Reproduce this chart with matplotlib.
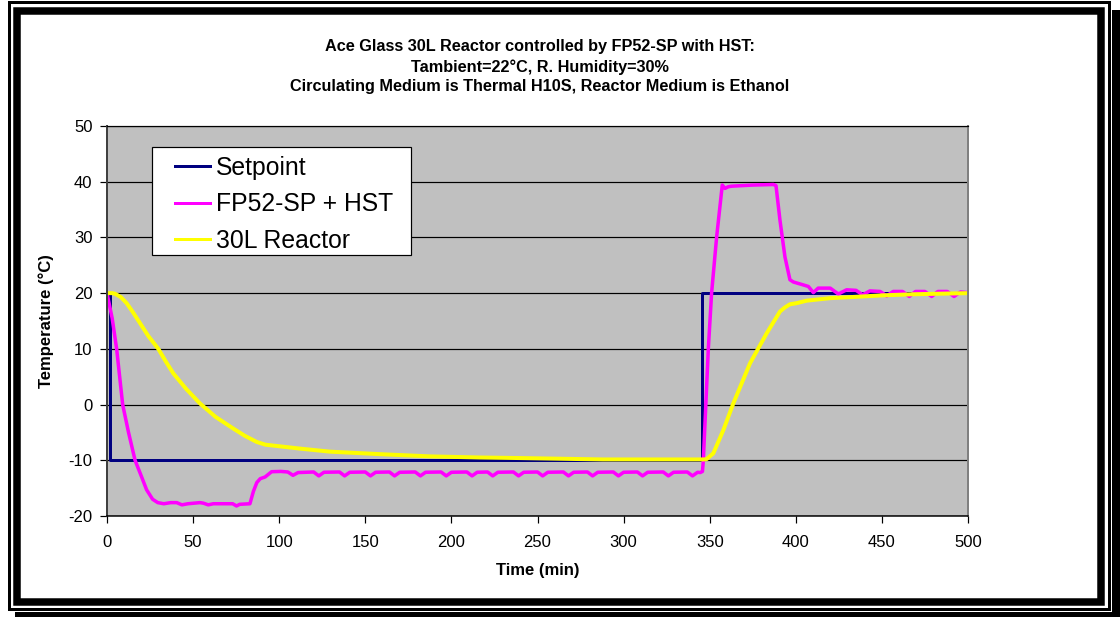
import matplotlib.pyplot as plt
from matplotlib.patches import Rectangle

plt.rcParams['font.family'] = ['Liberation Sans', 'DejaVu Sans']
plt.rcParams['axes.unicode_minus'] = False

# data (time in min, temperature in degC)
sp_t = [0, 1.5, 345.5, 500]
sp_v = [20, -10, 20, 20]

hst_t = [0, 3, 5.6, 9.1, 12.5, 16.3, 20, 23, 26.5, 29.5, 33, 37, 40.5, 43.5, 47,
         54, 56, 58.8, 61.7, 73, 75.2, 77.1, 83, 85, 87, 89, 91.8, 95.6, 101, 105,
         108, 111, 120, 123, 126, 135, 138, 141, 150, 153, 156, 164, 167, 170,
         179, 182, 185, 194, 197, 200, 209, 212, 215, 221, 224, 227, 236, 239, 242,
         250, 253, 256, 265, 268, 271, 279, 282, 285, 294, 297, 300, 308, 311, 314,
         323, 326, 329, 337, 340, 343, 344.5, 345.8, 346.3, 349.2, 351.1, 354, 357.3,
         358.9, 360.8, 362.8, 375, 387, 388.5, 390.8, 393.7, 396.6, 398.6, 403,
         407.3, 410.2, 413, 420, 424.7, 429.5, 435, 438.8, 443, 449, 452.8, 456.5,
         462, 465.9, 469.5, 475, 478.9, 482.5, 488, 491.9, 495.5, 500]
hst_v = [20, 15.5, 10, 0, -5, -10, -12.9, -15.3, -17, -17.6, -17.8, -17.6, -17.6, -18.0, -17.8,
         -17.6, -17.7, -18.0, -17.8, -17.8, -18.2, -17.9, -17.8, -15.6, -14.0, -13.3, -13.0, -12.05, -12.0, -12.1,
         -12.7, -12.2, -12.1, -12.8, -12.15, -12.1, -12.8, -12.15, -12.1, -12.8, -12.15, -12.1, -12.8, -12.15,
         -12.1, -12.8, -12.15, -12.1, -12.8, -12.15, -12.1, -12.8, -12.15, -12.1, -12.8, -12.15, -12.1, -12.8, -12.15,
         -12.1, -12.8, -12.15, -12.1, -12.8, -12.15, -12.1, -12.8, -12.15, -12.1, -12.8, -12.15, -12.1, -12.8, -12.15,
         -12.1, -12.8, -12.15, -12.1, -12.8, -12.15, -12.2, -12.0, -10, 10, 20, 30, 39.4,
         38.8, 39.1, 39.2, 39.4, 39.5, 39.3, 33.1, 26.5, 22.4, 22.0, 21.6,
         21.2, 20.1, 20.9, 20.9, 19.85, 20.6, 20.5, 19.7, 20.4, 20.3, 19.5, 20.3,
         20.3, 19.4, 20.3, 20.3, 19.4, 20.3, 20.3, 19.4, 20.2, 20.1]

reac_t = [0, 3, 4.6, 8, 11.4, 15, 19.2, 24, 29.8, 34, 38.5, 46, 54, 63, 73.3, 80,
          86.9, 92, 100.5, 112, 129.5, 158.5, 187.6, 216.6, 240, 288, 346.5, 348.2,
          352.1, 357.9, 363.7, 373.4, 383.1, 390.8, 393.5, 396.6, 400.5, 406.3, 419.9,
          429.5, 450, 468.2, 500]
reac_v = [20, 20, 19.9, 19.3, 18.2, 16.6, 14.6, 12.3, 10, 7.8, 5.6, 2.8, 0.2, -2.2, -4.3, -5.6,
          -6.7, -7.2, -7.5, -7.9, -8.45, -8.9, -9.3, -9.5, -9.6, -9.85, -9.85, -9.8,
          -8.75, -4.6, 0.2, 7.4, 12.8, 16.7, 17.4, 18.0, 18.2, 18.65, 19.1,
          19.25, 19.6, 19.8, 20]

W, H = 1120, 617
px = 0.72  # one pixel in points at dpi 100

fig = plt.figure(figsize=(W / 100, H / 100), dpi=100, facecolor='white')

# double frame with drop shadow
deco = fig.add_axes([0, 0, 1, 1])
deco.set_xlim(0, W)
deco.set_ylim(H, 0)
deco.axis('off')
deco.add_patch(Rectangle((15, 10), 1105, 607, fc='black', ec='none'))
deco.add_patch(Rectangle((0, 0), 1112, 611.5, fc='white', ec='none'))
deco.add_patch(Rectangle((8.5, 1.5), 1100, 607.5, fill=False, ec='black', lw=3 * px))
deco.add_patch(Rectangle((17, 11), 1084, 590.5, fill=False, ec='black', lw=7.5 * px))

ax = fig.add_axes([107 / W, 1 - 516 / H, 861 / W, 390 / H])
ax.set_facecolor('#C0C0C0')

l1, = ax.plot(sp_t, sp_v, color='#000080', lw=3 * px, drawstyle='steps-post')
l2, = ax.plot(hst_t, hst_v, color='#FF00FF', lw=3.5 * px)
l3, = ax.plot(reac_t, reac_v, color='#FFFF00', lw=4 * px)

ax.set_xlim(0, 500)
ax.set_ylim(-20, 50)
ax.set_xticks(range(0, 501, 50))
ax.set_yticks(range(-20, 51, 10))
ax.yaxis.grid(True, color='black', lw=1.2 * px)
ax.set_axisbelow(True)
ax.tick_params(axis='both', labelsize=12, direction='out', length=5, width=1.2 * px)
ax.tick_params(axis='y', pad=5.5)
ax.tick_params(axis='x', pad=9)

ax.spines['top'].set_color('black')
ax.spines['top'].set_linewidth(1.2 * px)
ax.spines['right'].set_color('#808080')
ax.spines['right'].set_linewidth(2 * px)
ax.spines['left'].set_color('#404040')
ax.spines['left'].set_linewidth(2 * px)
ax.spines['bottom'].set_color('black')
ax.spines['bottom'].set_linewidth(1.5 * px)

# legend box drawn by hand, entries placed inside it
fig.patches.append(Rectangle((152 / W, 1 - 255 / H), 259 / W, 108 / H,
                             transform=fig.transFigure, fc='white', ec='black',
                             lw=1.2 * px, zorder=2))
leg = fig.legend([l1, l2, l3], ['Setpoint', 'FP52-SP + HST', '30L Reactor'],
                 loc='upper left', bbox_to_anchor=(175 / W, 1 - 156 / H),
                 fontsize=17.8, frameon=False, borderaxespad=0, borderpad=0,
                 handlelength=1.4, handletextpad=0.25, labelspacing=0.5)
leg.set_zorder(5)
for ln in leg.get_lines():
    ln.set_linewidth(3 * px)

titles = ['Ace Glass 30L Reactor controlled by FP52-SP with HST:',
          'Tambient=22°C, R. Humidity=30%',
          'Circulating Medium is Thermal H10S, Reactor Medium is Ethanol']
for s, y in zip(titles, [46, 67, 87]):
    fig.text(540 / W, 1 - y / H, s, ha='center', va='center', fontsize=11.7, fontweight='bold')

fig.text(46 / W, 1 - 321 / H, 'Temperature (°C)', ha='center', va='center',
         rotation=90, fontsize=12, fontweight='bold')
fig.text(538 / W, 1 - 571 / H, 'Time (min)', ha='center', va='center',
         fontsize=12, fontweight='bold')

fig.savefig('out.png', dpi=100, facecolor='white')
